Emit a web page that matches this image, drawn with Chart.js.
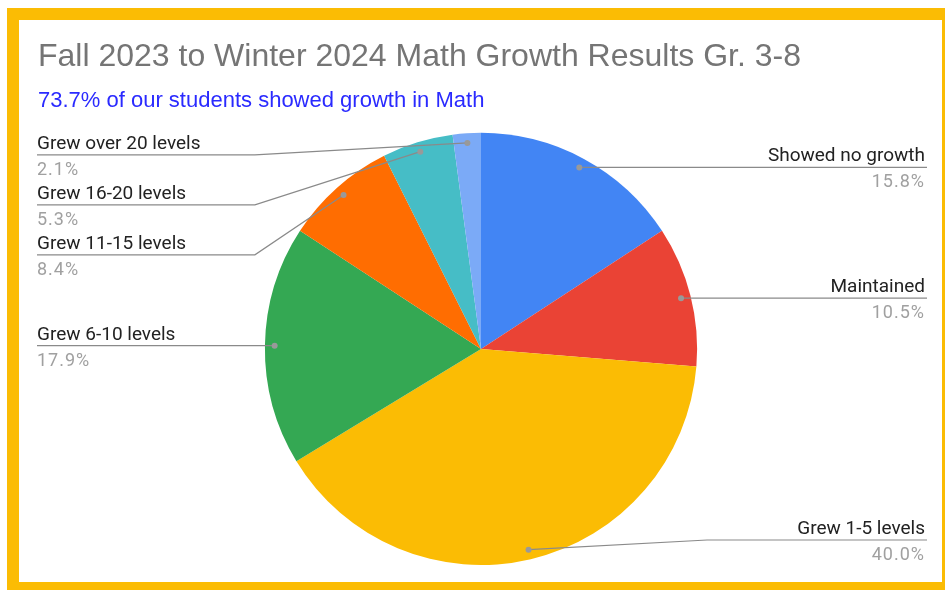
<!DOCTYPE html>
<html>
<head>
<meta charset="utf-8">
<script src="https://cdn.jsdelivr.net/npm/chart.js@4.4.1/dist/chart.umd.min.js"></script>
<style>
  html, body { margin: 0; padding: 0; background: #fff; overflow: hidden; }
  #growthChart { display: block; }
</style>
</head>
<body>
<canvas id="growthChart" width="945" height="590"></canvas>
<script>
// dati del grafico
const categories = ['Showed no growth', 'Maintained', 'Grew 1-5 levels', 'Grew 6-10 levels',
  'Grew 11-15 levels', 'Grew 16-20 levels', 'Grew over 20 levels'];
const percentages = [15.8, 10.5, 40.0, 17.9, 8.4, 5.3, 2.1];
const sliceColors = ['#4285F4', '#EA4335', '#FBBC04', '#34A853', '#FF6D01', '#46BDC6', '#7BAAF7'];
const chartTitle = 'Fall 2023 to Winter 2024 Math Growth Results Gr. 3-8';
const chartSubtitle = '73.7% of our students showed growth in Math';

// cornice arancione intorno al grafico
const frame = {
  id: 'frame',
  beforeDraw(chart) {
    const c = chart.ctx;
    c.save();
    c.fillStyle = '#fff';
    c.fillRect(0, 0, chart.width, chart.height);
    c.fillStyle = '#FBBC04';
    c.fillRect(7, 8, chart.width, chart.height);
    c.fillStyle = '#fff';
    c.fillRect(19, 20, chart.width - 22, chart.height - 28);
    c.restore();
  }
};

// etichette con linee guida, stile google charts
const leaderLabels = {
  id: 'leaderLabels',
  afterDraw(chart) {
    const ctx = chart.ctx;
    const area = chart.chartArea;
    const arcs = chart.getDatasetMeta(0).data;
    const values = chart.data.datasets[0].data;
    const left = [], right = [];

    arcs.forEach((arc, i) => {
      const p = arc.getProps(['x', 'y', 'startAngle', 'endAngle', 'outerRadius'], true);
      const mid = (p.startAngle + p.endAngle) / 2;
      const r = p.outerRadius * 0.955;
      const item = {
        i, cx: p.x, R: p.outerRadius,
        ax: p.x + Math.cos(mid) * r,
        ay: p.y + Math.sin(mid) * r
      };
      (Math.cos(mid) >= 0 ? right : left).push(item);
    });

    const gap = 50;
    //posizioni verticali senza sovrapposizioni
    left.sort((a, b) => a.ay - b.ay);
    let prev = -Infinity;
    left.forEach(it => {
      it.ly = Math.max(it.ay, area.top + 22, prev + gap);
      prev = it.ly;
    });
    right.sort((a, b) => b.ay - a.ay);
    prev = Infinity;
    right.forEach(it => {
      it.ly = Math.min(it.ay, area.bottom - 25, prev - gap);
      prev = it.ly;
    });

    const drawItem = (it, side) => {
      const elbowX = side === 'r' ? it.cx + it.R + 10 : it.cx - it.R - 10;
      const endX = side === 'r' ? chart.width - 18 : 37;
      ctx.save();
      ctx.strokeStyle = '#8a8a8a';
      ctx.lineWidth = 1.2;
      ctx.beginPath();
      ctx.moveTo(it.ax, it.ay);
      if (side === 'r' ? it.ax < elbowX : it.ax > elbowX) ctx.lineTo(elbowX, it.ly);
      ctx.lineTo(endX, it.ly);
      ctx.stroke();
      ctx.fillStyle = '#999';
      ctx.beginPath();
      ctx.arc(it.ax, it.ay, 3, 0, Math.PI * 2);
      ctx.fill();

      const tx = side === 'r' ? endX - 2 : endX;
      ctx.textAlign = side === 'r' ? 'right' : 'left';
      ctx.textBaseline = 'alphabetic';
      ctx.font = '19px Roboto';
      ctx.fillStyle = '#222';
      ctx.fillText(chart.data.labels[it.i], tx, it.ly - 6);
      ctx.font = '18px Roboto';
      ctx.fillStyle = '#a0a0a0';
      ctx.letterSpacing = '1px';
      ctx.fillText(values[it.i].toFixed(1) + '%', tx, it.ly + 20);
      ctx.restore();
    };
    left.forEach(it => drawItem(it, 'l'));
    right.forEach(it => drawItem(it, 'r'));
  }
};

const ctx = document.getElementById('growthChart').getContext('2d');
new Chart(ctx, {
  type: 'pie',
  data: {
    labels: categories,
    datasets: [{
      data: percentages,
      backgroundColor: sliceColors,
      borderWidth: 0
    }]
  },
  options: {
    responsive: false,
    animation: false,
    layout: { padding: { left: 38, right: 21, top: 0, bottom: 25 } },
    plugins: {
      legend: { display: false },
      tooltip: { enabled: false },
      title: {
        display: true,
        text: chartTitle,
        align: 'start',
        color: '#757575',
        font: { family: '"Liberation Sans", Arial', size: 32, weight: 'normal' },
        padding: { top: 38, bottom: 11 }
      },
      subtitle: {
        display: true,
        text: chartSubtitle,
        align: 'start',
        color: '#2a2aff',
        font: { family: '"Liberation Sans", Arial', size: 22, weight: 'normal' },
        padding: { top: 0, bottom: 19 }
      }
    }
  },
  plugins: [frame, leaderLabels]
});
</script>
</body>
</html>
